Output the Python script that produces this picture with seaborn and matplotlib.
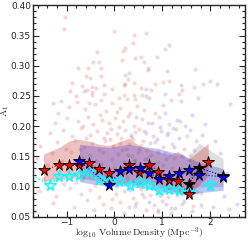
import numpy as np
import pandas as pd
import matplotlib
matplotlib.use("Agg")
import matplotlib.pyplot as plt
import seaborn as sns

# faint cloud of individual galaxies
red_pts_x = [-1.03, -1.06, 0.00, 0.40, 0.38, 0.23, -0.37, 0.18, 0.42, -0.44, -0.32, 0.15, -0.77, -0.55,
             -0.27, -0.60, -0.50, -0.29, 0.23, 0.29, -0.89, -0.68, -0.46, -0.22, -0.05, 0.19, 0.22, 0.40,
             -0.93, -0.58, -0.47, -0.39, -0.22, -0.81, -0.46, -0.29, 0.10, 0.19, 0.27, 0.40, 0.42, -1.29,
             -1.12, -0.78, -0.53, 0.66, 1.06, 0.56, 0.61, 0.70, 0.70, 1.68, 1.86, 1.66, 1.13, 1.02, 0.85,
             1.42, 1.35, 0.56, 0.76, 0.58, 0.72, 1.19, 2.42,
             -0.95, -0.62, -0.41, -0.18, -0.05, 0.12, 0.33, 0.48, 0.62, 0.85, 1.02, -1.18, -0.30, 0.05,
             -1.25, -0.98, -0.76, -0.55, -0.44, -0.25, -0.12, 0.02, 0.18, 0.28, 0.41, 0.57, 0.71, 0.93,
             1.15, 1.38, -0.66, 0.09,
             -1.35, -1.08, -0.88, -0.70, -0.51, -0.37, -0.21, -0.08, 0.06, 0.22, 0.35, 0.52, 0.66, 0.80,
             0.97, 1.10, 1.29, 1.52, -0.60, -0.15, 0.14, 0.44,
             -1.55, -1.20, -1.02, -0.83, -0.63, -0.47, -0.33, -0.19, -0.02, 0.11, 0.25, 0.39, 0.55, 0.68,
             0.84, 1.01, 1.21, 1.45, 1.70, -0.72, -0.10, 0.30, 0.60,
             -1.62, -1.30, -1.10, -0.90, -0.68, -0.50, -0.38, -0.23, -0.04, 0.08, 0.21, 0.36, 0.50, 0.64,
             0.77, 0.90, 1.05, 1.25, 1.58, -0.80, 0.15, 0.43,
             -1.40, -0.99, -0.60, -0.28, 0.00, 0.18, 0.46, 0.60, 0.83, 1.00, 1.20, 1.48, -0.45, 0.35,
             -1.50, -1.05, -0.80, -0.40, -0.20, 0.05, 0.26, 0.50, 0.70, 0.88, 1.10, 1.32, 1.60, -0.65, 0.40,
             -1.58, -1.22, -0.92, -0.70, -0.52, -0.33, -0.12, 0.03, 0.20, 0.38, 0.55, 0.74, 0.92, 1.12,
             1.36, 1.55, 1.80, -0.05, 0.62,
             -1.66, -1.28, -0.85, -0.58, -0.42, -0.24, -0.08, 0.12, 0.30, 0.45, 0.66, 0.82, 1.00, 1.18,
             1.42, 1.65, 0.90, 0.20]
red_pts_y = [0.380, 0.361, 0.357, 0.351, 0.338, 0.329, 0.323, 0.324, 0.313, 0.306, 0.306, 0.310, 0.296, 0.296,
             0.296, 0.283, 0.280, 0.283, 0.285, 0.278, 0.272, 0.267, 0.265, 0.268, 0.261, 0.268, 0.270, 0.272,
             0.258, 0.260, 0.257, 0.263, 0.254, 0.250, 0.252, 0.244, 0.246, 0.252, 0.245, 0.252, 0.245, 0.239,
             0.242, 0.240, 0.239, 0.354, 0.327, 0.315, 0.306, 0.296, 0.293, 0.295, 0.270, 0.265, 0.275, 0.273,
             0.269, 0.260, 0.253, 0.264, 0.260, 0.252, 0.246, 0.243, 0.236,
             0.232, 0.228, 0.236, 0.225, 0.238, 0.230, 0.222, 0.234, 0.226, 0.221, 0.235, 0.221, 0.219, 0.224,
             0.205, 0.213, 0.208, 0.216, 0.203, 0.211, 0.205, 0.214, 0.208, 0.217, 0.201, 0.212, 0.206, 0.215,
             0.204, 0.209, 0.201, 0.199,
             0.188, 0.194, 0.183, 0.197, 0.186, 0.192, 0.181, 0.196, 0.187, 0.193, 0.182, 0.195, 0.188, 0.183,
             0.192, 0.185, 0.196, 0.184, 0.180, 0.189, 0.180, 0.190,
             0.168, 0.174, 0.163, 0.177, 0.166, 0.172, 0.161, 0.176, 0.167, 0.173, 0.163, 0.178, 0.169, 0.161,
             0.174, 0.166, 0.171, 0.162, 0.175, 0.162, 0.179, 0.170, 0.176,
             0.148, 0.155, 0.143, 0.157, 0.147, 0.153, 0.142, 0.158, 0.146, 0.154, 0.141, 0.150, 0.157, 0.145,
             0.152, 0.141, 0.156, 0.147, 0.153, 0.141, 0.160, 0.144,
             0.135, 0.128, 0.124, 0.137, 0.131, 0.122, 0.138, 0.127, 0.134, 0.121, 0.130, 0.125, 0.121, 0.126,
             0.112, 0.105, 0.108, 0.103, 0.117, 0.101, 0.115, 0.104, 0.118, 0.107, 0.102, 0.116, 0.106, 0.115, 0.110,
             0.092, 0.085, 0.097, 0.088, 0.094, 0.083, 0.098, 0.087, 0.093, 0.081, 0.096, 0.086, 0.091, 0.083,
             0.095, 0.082, 0.090, 0.080, 0.082,
             0.059, 0.073, 0.066, 0.078, 0.062, 0.071, 0.064, 0.075, 0.067, 0.073, 0.061, 0.070, 0.076, 0.064,
             0.072, 0.068, 0.058, 0.056]

blue_pts_x = [0.30, -0.64, 1.15, 0.88, 1.09, 2.68, 1.99, 1.39, 1.06, 0.67, 0.67, 1.39, 1.75, 2.15,
              0.45, 0.78, 1.05, 1.30, 1.62, 1.90, 0.95, 1.48,
              0.35, 0.62, 0.88, 1.12, 1.35, 1.58, 1.82, 2.10, 0.75, 1.22,
              0.28, 0.52, 0.70, 0.92, 1.08, 1.25, 1.42, 1.66, 1.95, 2.20, 0.40, 1.15, 1.55,
              0.20, 0.48, 0.66, 0.85, 1.02, 1.20, 1.38, 1.61, 1.88, 2.35, 0.98,
              0.33, 0.57, 0.80, 0.96, 1.14, 1.31, 1.50, 1.72, 2.00, 2.28, 1.05, 1.40,
              0.42, 0.72, 0.90, 1.08, 1.26, 1.45, 1.62, 1.80, 2.05, 2.39, 1.18, 2.55]
blue_pts_y = [0.288, 0.258, 0.334, 0.315, 0.292, 0.296, 0.275, 0.268, 0.253, 0.261, 0.250, 0.242, 0.246, 0.270,
              0.215, 0.205, 0.222, 0.210, 0.218, 0.203, 0.198, 0.200,
              0.185, 0.192, 0.178, 0.188, 0.181, 0.194, 0.186, 0.176, 0.172, 0.197,
              0.152, 0.163, 0.147, 0.158, 0.145, 0.166, 0.151, 0.160, 0.148, 0.155, 0.142, 0.153, 0.144,
              0.125, 0.133, 0.118, 0.128, 0.136, 0.114, 0.131, 0.119, 0.127, 0.122, 0.112,
              0.095, 0.088, 0.101, 0.084, 0.097, 0.086, 0.104, 0.091, 0.098, 0.085, 0.092, 0.108,
              0.068, 0.075, 0.062, 0.071, 0.065, 0.077, 0.060, 0.070, 0.066, 0.063, 0.056, 0.072]

# binned medians (stars) and their spread (shaded bands)
red_x = [-1.48, -1.15, -0.94, -0.73, -0.53, -0.32, -0.11, 0.30, 0.52, 0.72, 0.92, 1.13, 1.33, 1.55, 1.96]
red_y = [0.127, 0.136, 0.136, 0.136, 0.139, 0.129, 0.122, 0.135, 0.124, 0.136, 0.125, 0.111, 0.109, 0.088, 0.141]
red_hi = [0.154, 0.165, 0.176, 0.178, 0.175, 0.170, 0.168, 0.180, 0.168, 0.162, 0.158, 0.152, 0.158, 0.145, 0.172]
red_lo = [0.108, 0.112, 0.113, 0.115, 0.112, 0.110, 0.105, 0.105, 0.103, 0.105, 0.100, 0.095, 0.090, 0.085, 0.118]

blue_x = [-0.73, -0.11, 0.12, 0.30, 0.53, 0.73, 0.93, 1.14, 1.34, 1.56, 1.77, 2.27]
blue_y = [0.142, 0.102, 0.126, 0.129, 0.131, 0.123, 0.113, 0.118, 0.123, 0.127, 0.120, 0.116]
blue_hi = [0.170, 0.165, 0.168, 0.170, 0.167, 0.165, 0.163, 0.158, 0.155, 0.148, 0.140, 0.130]
blue_lo = [0.108, 0.100, 0.102, 0.100, 0.098, 0.096, 0.092, 0.090, 0.088, 0.086, 0.090, 0.094]

black_x = [1.56, 1.77, 2.27]
black_y = [0.105, 0.131, 0.118]
black_hi = [0.150, 0.172, 0.146]
black_lo = [0.095, 0.100, 0.100]

cyan_x = [-1.85, -1.35, -1.15, -0.94, -0.73, -0.53, -0.32, -0.11, 0.10, 0.32, 0.53, 0.73, 0.93, 1.14, 1.34, 1.55, 2.00]
cyan_y = [0.125, 0.102, 0.118, 0.118, 0.119, 0.124, 0.113, 0.110, 0.110, 0.102, 0.108, 0.103, 0.095, 0.096, 0.094, 0.091, 0.102]

sns.set_style("ticks")
plt.rcParams["mathtext.fontset"] = "cm"
plt.rcParams["font.family"] = ["DejaVu Sans"]

fig = plt.figure(figsize=(2.49, 2.42), dpi=100)
ax = fig.add_axes([0.1325, 0.104, 0.852, 0.874])

sns.scatterplot(x=red_pts_x, y=red_pts_y, color="#c04040", alpha=0.2, s=9, linewidth=0, ax=ax)
sns.scatterplot(x=blue_pts_x, y=blue_pts_y, color="#4a4ae0", alpha=0.2, s=9, linewidth=0, ax=ax)

ax.fill_between(black_x, black_lo, black_hi, color="gray", alpha=0.25, linewidth=0)
ax.fill_between(red_x, red_lo, red_hi, color="#c83232", alpha=0.3, linewidth=0)
ax.fill_between(blue_x, blue_lo, blue_hi, color="#3c3cd2", alpha=0.3, linewidth=0)

cyan = pd.DataFrame({"x": cyan_x, "y": cyan_y})
sns.lineplot(data=cyan, x="x", y="y", sort=False, estimator=None, color="cyan", ls=":", lw=1, ax=ax)
ax.plot(cyan_x[1:], cyan_y[1:], ls="none", marker="*", ms=8.5, mfc="none", mec="cyan", mew=1)

for xs, ys, c in [(red_x, red_y, "red"), (black_x, black_y, "black"), (blue_x, blue_y, "blue")]:
    d = pd.DataFrame({"x": xs, "y": ys})
    sns.lineplot(data=d, x="x", y="y", sort=False, estimator=None, color=c, ls=":", lw=0.8, ax=ax)
    ax.plot(xs, ys, ls="none", marker="*", ms=8.5, mfc=c, mec="black", mew=0.6)

ax.set_xlim(-1.7, 2.73)
ax.set_ylim(0.05, 0.40)
ax.set_xticks([-1, 0, 1, 2])
ax.set_xticklabels(["\u22121", "0", "1", "2"])
ax.set_yticks(np.arange(0.05, 0.401, 0.05))
ax.set_yticklabels([f"{v:.2f}" for v in np.arange(0.05, 0.401, 0.05)])
ax.xaxis.set_minor_locator(matplotlib.ticker.MultipleLocator(0.2))
ax.yaxis.set_minor_locator(matplotlib.ticker.MultipleLocator(0.01))
ax.tick_params(which="both", direction="in", top=True, right=True, labelsize=6.5, width=0.8, pad=1.5)
ax.tick_params(axis="x", pad=1)
ax.tick_params(which="major", length=4)
ax.tick_params(which="minor", length=2)
for sp in ax.spines.values():
    sp.set_linewidth(1)
ax.set_xlabel(r"$\log_{10}\,\mathrm{Volume\,Density\,(Mpc^{-3})}$", fontsize=7, labelpad=-1)
ax.set_ylabel(r"$\mathrm{A}_1$", fontsize=7, labelpad=0)

fig.savefig("out.png", dpi=100)
